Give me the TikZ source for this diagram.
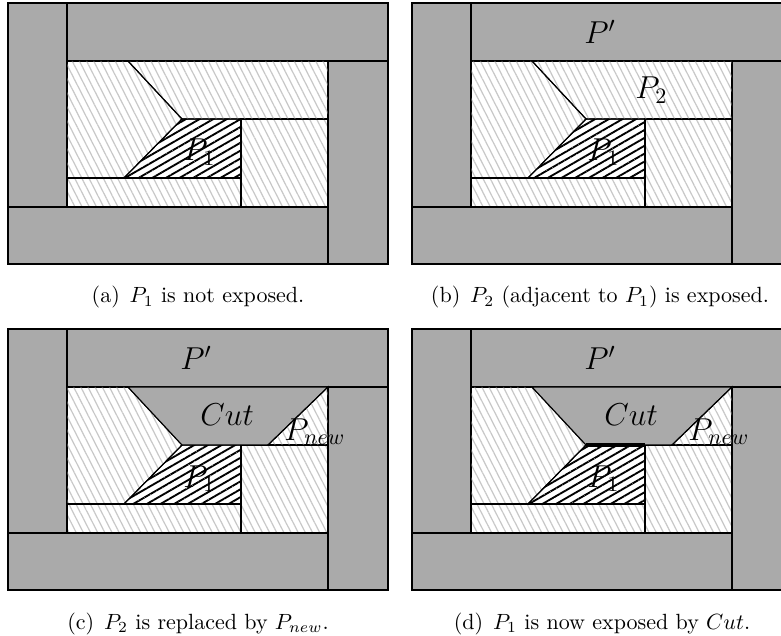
\documentclass[tikz,border=0pt]{standalone}
\usetikzlibrary{patterns.meta}
\definecolor{bandgray}{RGB}{170,170,170}
\definecolor{hatchgray}{RGB}{200,200,200}
\tikzset{
  band/.style={fill=bandgray, draw=black, line width=0.5pt},
  light/.style={pattern={Lines[angle=-63,distance=2.9pt,line width=0.55pt]}, pattern color=hatchgray, draw=black, line width=0.5pt},
  dark/.style={pattern={Lines[angle=30,distance=3.1pt,line width=0.85pt]}, pattern color=black, draw=black, line width=0.5pt},
  lbl/.style={anchor=base west, inner sep=0pt, font=\Large},
  captext/.style={anchor=base, inner sep=0pt},
}
\newcommand{\frameparts}{%
  \draw[band] (8,3) rectangle (67,207);
  \draw[band] (67,3) rectangle (388,61);
  \draw[band] (328,61) rectangle (388,264);
  \draw[band] (8,207) rectangle (328,264);
  \draw[light] (67,61) -- (128,61) -- (182,119) -- (124,178) -- (67,178) -- cycle;
  \draw[light] (241,119) rectangle (328,207);
  \draw[light] (67,178) rectangle (241,207);
  \draw[dark] (182,119) -- (241,119) -- (241,178) -- (124,178) -- cycle;
}
\begin{document}
\begin{tikzpicture}[x=0.4545pt, y=-0.4545pt]
\fill[white] (0,0) rectangle (781,636);
\clip (0,0) rectangle (781,636);
\useasboundingbox (0,0) rectangle (781,636);
% (a)
\begin{scope}
  \frameparts
  \draw[light] (128,61) -- (328,61) -- (328,119) -- (182,119) -- cycle;
  \node[lbl] (a1) at (183,161) {$P_1$};
\end{scope}
\node[captext] (capa) at (198,303) {(a)\hspace{0.45em}$P_1$ is not exposed.};
% (b)
\begin{scope}[shift={(404,0)}]
  \frameparts
  \draw[light] (128,61) -- (328,61) -- (328,119) -- (182,119) -- cycle;
  \node[lbl] (b1) at (183,161) {$P_1$};
  \node[lbl] (bp) at (180,44) {$P'$};
  \node[lbl] (b2) at (231,99) {$P_2$};
\end{scope}
\node[captext] (capb) at (600,303) {(b)\hspace{0.45em}$P_2$ (adjacent to $P_1$) is exposed.};
% (c)
\begin{scope}[shift={(0,326)}]
  \frameparts
  \draw[band] (128,61) -- (328,61) -- (268,119) -- (182,119) -- cycle;
  \draw[light] (268,119) -- (328,61) -- (328,119) -- cycle;
  \node[lbl] (c1) at (183,161) {$P_1$};
  \node[lbl] (cp) at (180,44) {$P'$};
  \node[lbl] (cc) at (200,99) {$Cut$};
  \node[lbl] (cn) at (284,114) {$P_{new}$};
\end{scope}
\node[captext] (capc) at (198,629) {(c)\hspace{0.45em}$P_2$ is replaced by $P_{new}$.};
% (d)
\begin{scope}[shift={(404,326)}]
  \frameparts
  \draw[band] (128,61) -- (328,61) -- (268,119) -- (182,119) -- cycle;
  \draw[light] (268,119) -- (328,61) -- (328,119) -- cycle;
  \coordinate (dl) at (182,119);
  \coordinate (dr) at (241,119);
  \draw[line width=2pt] (dl) -- (dr);
  \node[lbl] (d1) at (183,161) {$P_1$};
  \node[lbl] (dp) at (180,44) {$P'$};
  \node[lbl] (dc) at (200,99) {$Cut$};
  \node[lbl] (dn) at (284,114) {$P_{new}$};
\end{scope}
\node[captext] (capd) at (602,629) {(d)\hspace{0.45em}$P_1$ is now exposed by $Cut$.};
\end{tikzpicture}
\end{document}
